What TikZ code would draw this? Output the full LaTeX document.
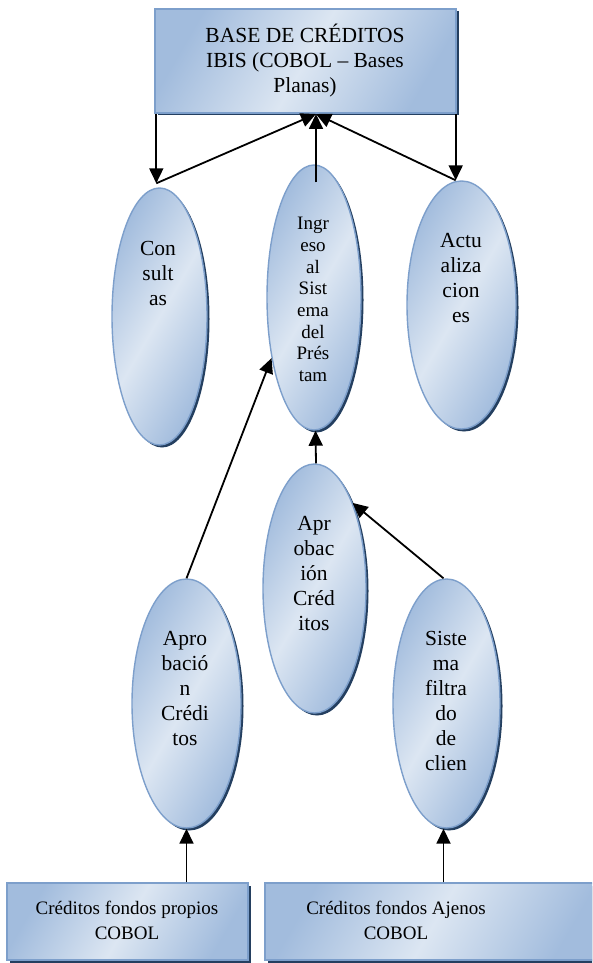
\documentclass[tikz,border=0pt]{standalone}
\usepackage{fontspec}
\setmainfont{Liberation Serif}
\usetikzlibrary{shapes.geometric,arrows.meta,shadows,calc}
\definecolor{fdark}{HTML}{A2BCDD}
\definecolor{flight}{HTML}{DCE6F2}
\definecolor{bordc}{HTML}{7D9FCB}
\definecolor{shadc}{HTML}{243F60}
\tikzset{
  bluefill/.style={left color=fdark, right color=fdark, middle color=flight, shading angle=60,
    draw=bordc, line width=1.4pt,
    drop shadow={shadow xshift=2.5pt, shadow yshift=-2.5pt, fill=shadc, opacity=1}},
  boxnode/.style={bluefill, rectangle, inner sep=0pt},
  ellnode/.style={bluefill, ellipse, inner sep=0pt},
  lbl/.style={inner sep=0pt, anchor=north, align=center, font=\fontsize{21.5pt}{25pt}\selectfont},
  lblsm/.style={inner sep=0pt, anchor=north, align=center, font=\fontsize{19pt}{21.7pt}\selectfont},
  lblbox/.style={inner sep=0pt, anchor=north, align=center, font=\fontsize{19pt}{25pt}\selectfont},
  arr/.style={line width=1.8pt, -{Triangle[length=15pt,width=14pt]}},
  ln/.style={line width=1.8pt}
}
\begin{document}
\begin{tikzpicture}[x=1pt,y=-1pt]
\clip (0,0) rectangle (592,963);
\fill[white] (0,0) rectangle (592,963);
% boxes
\node[boxnode, minimum width=301pt, minimum height=104pt] (base) at (305.5,61) {};
\node[boxnode, minimum width=241pt, minimum height=77pt] (bl) at (127.5,921.5) {};
\node[boxnode, minimum width=340pt, minimum height=77pt] (br) at (435,921.5) {};
% ellipses
\node[ellnode, minimum width=95pt, minimum height=257pt] (cons) at (159.5,316.5) {};
\node[ellnode, minimum width=94pt, minimum height=265pt] (ing) at (314,297.5) {};
\node[ellnode, minimum width=109pt, minimum height=248pt] (act) at (461.5,305) {};
\node[ellnode, minimum width=103pt, minimum height=249pt] (apm) at (314.5,588.5) {};
\node[ellnode, minimum width=109pt, minimum height=249pt] (apl) at (186.5,703.5) {};
\node[ellnode, minimum width=107pt, minimum height=249pt] (sis) at (446.5,703.5) {};
% labels
\node[lbl] (tbase) at (305,23.5) {\strut BASE DE CRÉDITOS\\IBIS (COBOL – Bases\\Planas)};
\node[lbl] (tcons) at (158,237.5) {\strut Con\\sult\\as};
\node[lblsm] (ting) at (313,214.3) {\strut Ingr\\eso\\al\\Sist\\ema\\del\\Prés\\tam};
\node[lbl] (tact) at (461,229.5) {\strut Actu\\aliza\\cion\\es};
\node[lbl] (tapm) at (314,512.5) {\strut Apr\\obac\\ión\\Créd\\itos};
\node[lbl] (tapl) at (185,627.5) {\strut Apro\\bació\\n\\Crédi\\tos};
\node[lbl] (tsis) at (446,627.5) {\strut Siste\\ma\\filtra\\do\\de\\clien};
\node[lblbox] (tbl) at (127,896.5) {\strut Créditos fondos propios\\COBOL};
\node[lblbox] (tbr) at (396,896.5) {\strut Créditos fondos Ajenos\\COBOL};
% connectors
\coordinate (hub) at (316,114);
\coordinate (cl) at ($(base.south west |- cons.north)+(2,-4)$);
\coordinate (cr) at ($(base.south east |- act.north)+(-1,0)$);
\draw[arr] ($(base.south west)+(2,0)$) -- (cl);
\draw[arr] (cl) -- (hub);
\draw[arr] ($(ing.north)+(2,18)$) -- (hub);
\draw[arr] (cr) -- (hub);
\draw[arr] ($(base.south east)+(-1,0)$) -- (cr);
\draw[arr] (apl.north) -- (ing.235);
\draw[arr] ($(apm.north)+(1.5,0)$) -- ($(ing.south)+(1.5,0)$);
\draw[arr] ($(sis.north)+(-3,0)$) -- (apm.66);
\draw[arr] (apl.south |- bl.north) -- (apl.south);
\draw[arr] ($(sis.south |- br.north)+(-3,0)$) -- ($(sis.south)+(-3,0)$);
\end{tikzpicture}
\end{document}
